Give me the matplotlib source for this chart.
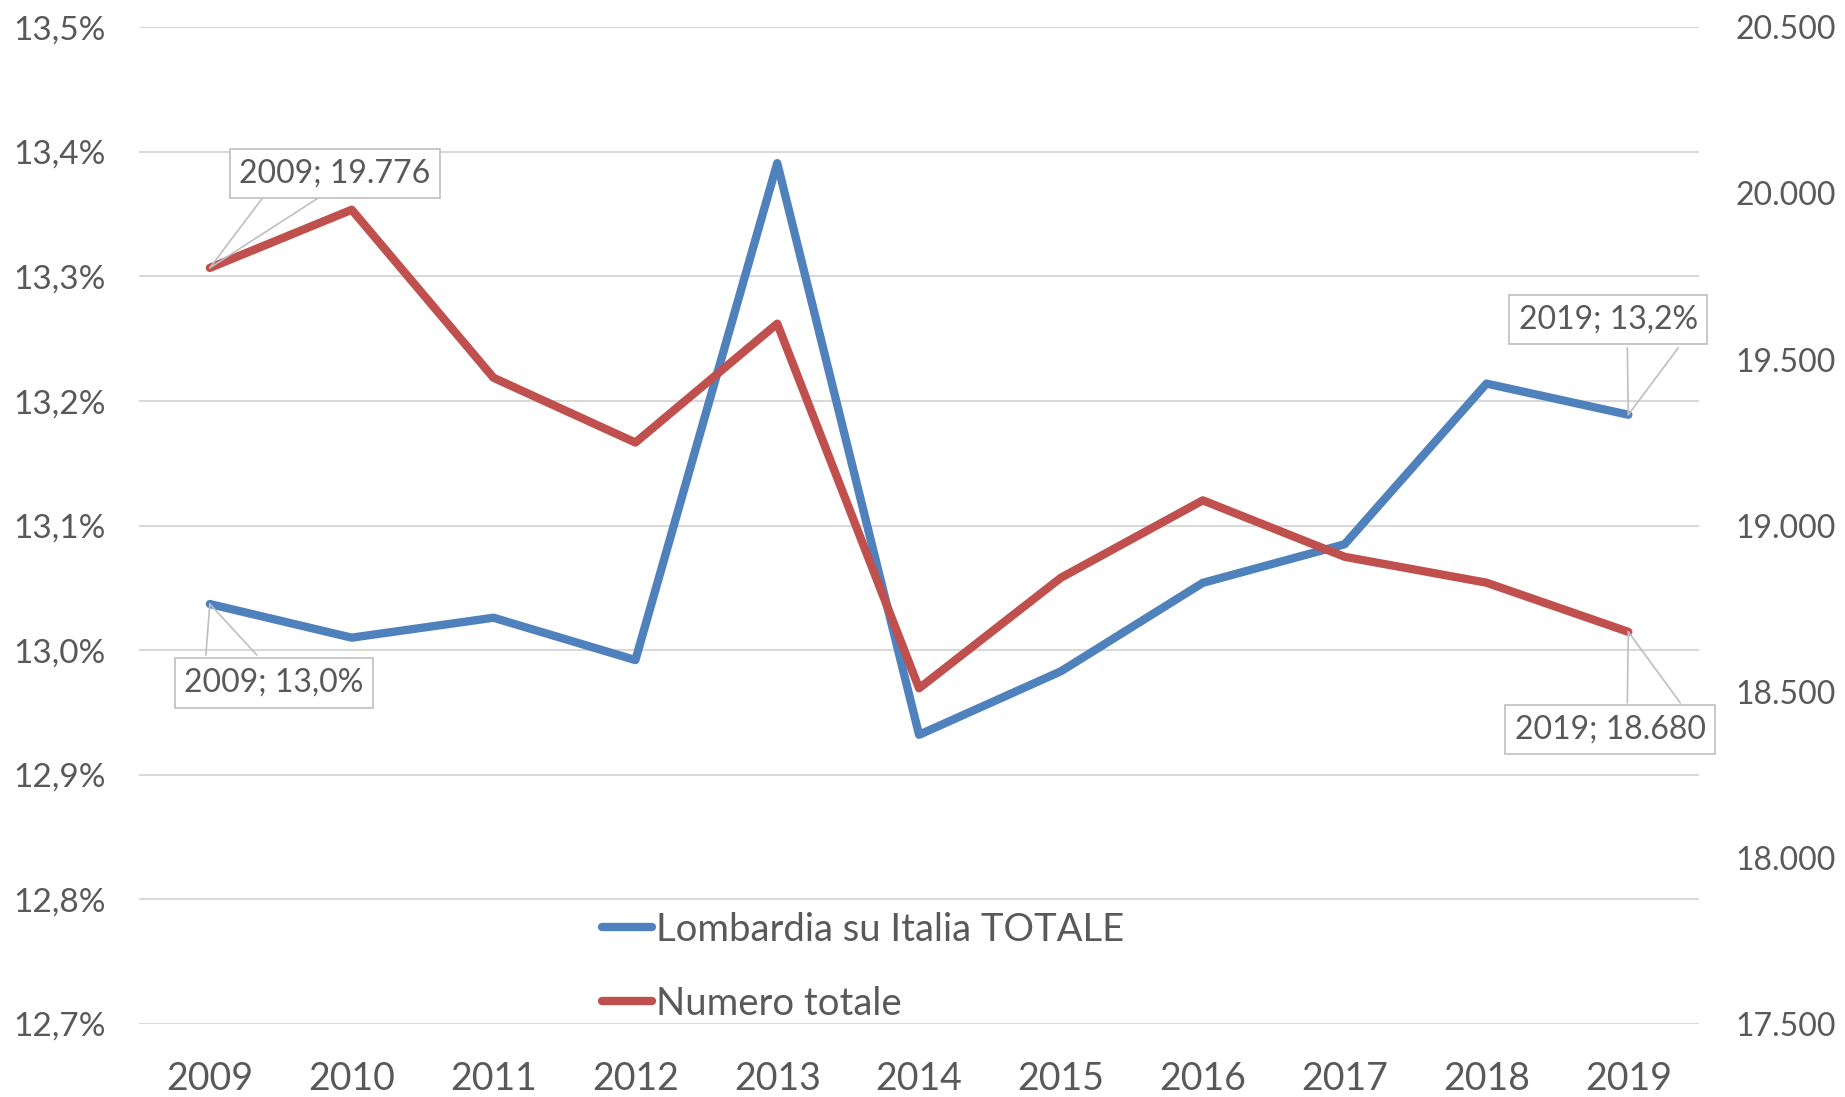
import matplotlib
matplotlib.use("Agg")
import matplotlib.pyplot as plt
from matplotlib.ticker import FuncFormatter

plt.rcParams['font.family'] = ['Lato', 'DejaVu Sans']

# === Data ===
years = ['2009', '2010', '2011', '2012', '2013', '2014', '2015', '2016', '2017', '2018', '2019']
share_pct = [13.037, 13.010, 13.026, 12.992, 13.391, 12.932, 12.983, 13.054, 13.085, 13.214, 13.189]
total_num = [19776, 19951, 19445, 19250, 19608, 18510, 18843, 19076, 18906, 18828, 18680]

left_ticks = [12.7, 12.8, 12.9, 13.0, 13.1, 13.2, 13.3, 13.4, 13.5]
right_ticks = [17500, 18000, 18500, 19000, 19500, 20000, 20500]

blue = '#4F81BD'
red = '#C0504D'
text_col = '#595959'
grid_col = '#D9D9D9'

# === Figure ===
fig = plt.figure(figsize=(18.45, 10.97), dpi=100)
ax = fig.add_axes([0.0753, 0.0668, 0.8457, 0.9082])
ax2 = ax.twinx()

x = list(range(len(years)))

l1, = ax.plot(x, share_pct, color=blue, lw=6, solid_capstyle='round',
              solid_joinstyle='round', label='Lombardia su Italia TOTALE', zorder=3)
l2, = ax2.plot(x, total_num, color=red, lw=6, solid_capstyle='round',
               solid_joinstyle='round', label='Numero totale', zorder=3)

ax.set_xlim(-0.5, len(years) - 0.5)
ax.set_ylim(12.7, 13.5)
ax2.set_ylim(17500, 20500)

ax.set_yticks(left_ticks)
ax2.set_yticks(right_ticks)
ax.yaxis.set_major_formatter(FuncFormatter(lambda v, p: f"{v:.1f}%".replace('.', ',')))
ax2.yaxis.set_major_formatter(FuncFormatter(lambda v, p: f"{int(round(v)):,}".replace(',', '.')))
ax.set_xticks(x)
ax.set_xticklabels(years)

ax.grid(axis='y', color=grid_col, lw=1.5)
ax.set_axisbelow(True)
for a in (ax, ax2):
    for s in a.spines.values():
        s.set_visible(False)

ax.tick_params(axis='y', length=0, pad=24, labelsize=24, labelcolor=text_col)
ax2.tick_params(axis='y', length=0, pad=26, labelsize=23, labelcolor=text_col)
ax.tick_params(axis='x', length=0, pad=27, labelsize=27, labelcolor=text_col)


# === Data labels with callouts ===
def callout(axis, xi, yi, text, center, attach):
    for a in attach:
        axis.annotate('', xy=(xi, yi), xytext=a, textcoords='offset pixels',
                      arrowprops=dict(arrowstyle='-', color='#BFBFBF', lw=1.2,
                                      shrinkA=0, shrinkB=0), zorder=4)
    axis.annotate(text, xy=(xi, yi), xytext=center, textcoords='offset pixels',
                  ha='center', va='center', fontsize=23, color=text_col, zorder=5,
                  bbox=dict(boxstyle='square,pad=0.3', fc='white', ec='#BFBFBF', lw=1.2))


last = len(years) - 1
callout(ax2, 0, total_num[0], f"{years[0]}; 19.776", (125, 94), [(52, 69), (107, 69)])
callout(ax, 0, share_pct[0], f"{years[0]}; 13,0%", (64, -79), [(-4, -51), (47, -51)])
callout(ax, last, share_pct[last], f"{years[last]}; 13,2%", (-20, 95), [(-1, 67), (50, 67)])
callout(ax2, last, total_num[last], f"{years[last]}; 18.680", (-18, -98), [(-1, -71), (52, -71)])

# === Legend ===
leg = ax.legend(handles=[l1, l2], loc='lower left', bbox_to_anchor=(0.297, 0.002),
                frameon=False, fontsize=27.5, handlelength=1.3, handletextpad=0.1,
                labelspacing=1.0, borderpad=0, borderaxespad=0, labelcolor=text_col)
for h in leg.legend_handles:
    h.set_solid_capstyle('round')

fig.savefig('out.png', dpi=100)
